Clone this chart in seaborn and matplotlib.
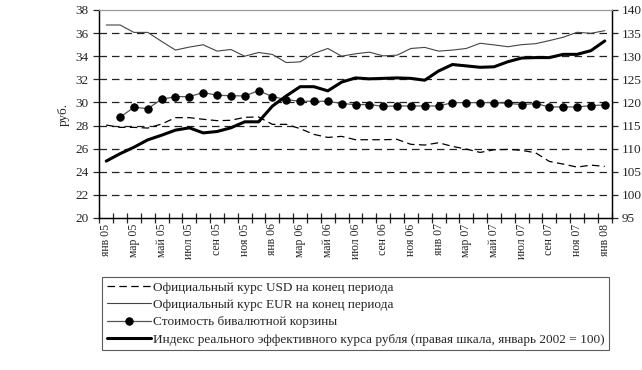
import matplotlib
matplotlib.use('Agg')
import matplotlib.pyplot as plt
import seaborn as sns
import numpy as np
import pandas as pd

# месяцы янв 05 - янв 08
month_names = ['янв', 'фев', 'мар', 'апр', 'май', 'июн',
               'июл', 'авг', 'сен', 'окт', 'ноя', 'дек']
years = ['05', '06', '07', '08']
months = [f'{m} {y}' for y in years for m in month_names][:37]

usd = [28.04, 27.84, 27.84, 27.78, 28.13, 28.68, 28.68, 28.54, 28.42, 28.45,
       28.71, 28.74, 28.10, 28.10, 27.73, 27.23, 26.97, 27.06, 26.77, 26.77,
       26.77, 26.80, 26.37, 26.31, 26.51, 26.19, 25.96, 25.67, 25.90, 25.93,
       25.85, 25.64, 24.89, 24.66, 24.40, 24.57, 24.46]

eur = [36.70, 36.70, 36.06, 36.06, 35.28, 34.53, 34.79, 34.99, 34.44, 34.58,
       34.00, 34.32, 34.15, 33.45, 33.51, 34.24, 34.67, 34.00, 34.21, 34.35,
       34.03, 34.09, 34.67, 34.76, 34.44, 34.53, 34.67, 35.12, 34.98, 34.82,
       35.00, 35.08, 35.35, 35.64, 36.07, 35.98, 36.21]

basket = [np.nan, 28.71, 29.58, 29.46, 30.27, 30.50, 30.50, 30.85, 30.62, 30.58,
          30.56, 31.02, 30.50, 30.24, 30.10, 30.10, 30.10, 29.90, 29.81, 29.81,
          29.66, 29.69, 29.69, 29.69, 29.69, 29.98, 29.98, 29.98, 29.98, 29.92,
          29.81, 29.90, 29.61, 29.61, 29.61, 29.72, 29.78]

reer = [107.3, 108.9, 110.3, 111.9, 112.9, 114.0, 114.5, 113.4, 113.7, 114.5,
        115.8, 115.8, 119.2, 121.4, 123.4, 123.4, 122.5, 124.4, 125.3, 125.1,
        125.2, 125.3, 125.2, 124.8, 126.8, 128.2, 127.9, 127.6, 127.7, 128.8,
        129.6, 129.7, 129.7, 130.4, 130.4, 131.2, 133.3]

labels = ['Официальный курс USD на конец периода',
          'Официальный курс EUR на конец периода',
          'Стоимость бивалютной корзины',
          'Индекс реального эффективного курса рубля (правая шкала, январь 2002 = 100)']

df = pd.DataFrame({'i': np.arange(len(months)), 'usd': usd, 'eur': eur,
                   'basket': basket, 'reer': reer})

sns.set_style('ticks')
plt.rcParams['font.family'] = ['Liberation Serif', 'DejaVu Serif']

fig = plt.figure(figsize=(6.42, 3.70), dpi=100)
ax = fig.add_axes([0.1547, 0.411, 0.7981, 0.562])
ax2 = ax.twinx()

sns.lineplot(data=df, x='i', y='usd', ax=ax, color='black', lw=0.9,
             linestyle=(0, (6, 3.5)), label=labels[0])
sns.lineplot(data=df, x='i', y='eur', ax=ax, color='#444444', lw=0.8,
             label=labels[1])
sns.lineplot(data=df, x='i', y='basket', ax=ax, color='#555555', lw=0.9,
             marker='o', markersize=5.3, markerfacecolor='black',
             markeredgecolor='black', label=labels[2])
sns.lineplot(data=df, x='i', y='reer', ax=ax2, color='black', lw=2.2,
             label=labels[3])

# оси
ax.set_ylim(20, 38)
ax.set_yticks(np.arange(20, 39, 2))
ax2.set_ylim(95, 140)
ax2.set_yticks(np.arange(95, 141, 5))
ax.set_xlim(-0.5, len(months) - 0.5)
ax.set_xticks(np.arange(0, len(months), 2))
ax.set_xticklabels(months[::2], rotation=90)
ax.set_xticks(np.arange(-0.5, len(months), 1), minor=True)
ax.tick_params(axis='x', which='major', length=0, labelsize=8.5, pad=4)
ax.tick_params(axis='x', which='minor', length=7, direction='inout', width=0.9)
ax.tick_params(axis='y', labelsize=9.5, length=4, width=0.9, direction='out')
ax2.tick_params(axis='y', labelsize=9.5, length=4, width=0.9, direction='out')
ax.set_xlabel('')
ax.set_ylabel('руб.', fontsize=9.5)
ax.yaxis.set_label_coords(-0.058, 0.5)
ax2.set_ylabel('')

ax.yaxis.grid(True, color='#222222', linestyle=(0, (6, 4)), lw=0.9)
gl = ax.get_ygridlines()
gl[0].set_visible(False)
gl[-1].set_visible(False)

for a in (ax, ax2):
    for s in ('left', 'right', 'bottom'):
        a.spines[s].set_color('black')
        a.spines[s].set_linewidth(0.9)
    a.spines['top'].set_color('#999999')
    a.spines['top'].set_linewidth(0.8)

handles = ax.get_legend().legend_handles + ax2.get_legend().legend_handles
ax.get_legend().remove()
ax2.get_legend().remove()

leg = fig.legend(handles, labels, loc='upper left',
                 bbox_to_anchor=(102 / 642, 1 - 277 / 370),
                 borderaxespad=0, frameon=True, fancybox=False,
                 edgecolor='#333333', fontsize=9.5, handlelength=3.4,
                 handletextpad=0.1, labelspacing=0.38, borderpad=0.35)
leg.get_frame().set_linewidth(0.8)

fig.savefig('out.png', dpi=100)
